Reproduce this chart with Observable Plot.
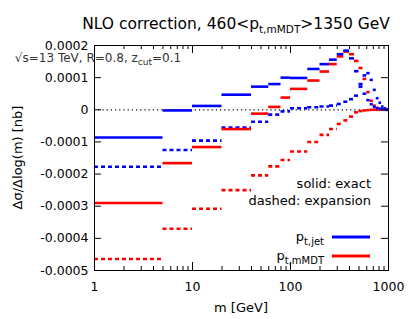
<!DOCTYPE html>
<html><head><meta charset="utf-8">
<script src="https://cdn.jsdelivr.net/npm/d3@7"></script>
<script src="https://cdn.jsdelivr.net/npm/@observablehq/plot@0.6"></script>
<style>body{margin:0;background:#fff}svg{font-family:"DejaVu Sans",sans-serif}</style>
</head><body><div id="chart"></div>
<script>
// ---- data (values in nb) ----
const binEdges = [1,5,10,20,40,60,80,100,150,200,250,300,350,400,450,500,550,600,650,700,750,800,850,900,950,1000];
const ptJetExact = [-0.86e-4,-0.02e-4,0.12e-4,0.47e-4,0.72e-4,0.80e-4,1.00e-4,0.99e-4,1.27e-4,1.42e-4,1.56e-4,1.73e-4,1.84e-4,1.60e-4,1.20e-4,0.80e-4,0.50e-4,0.30e-4,0.17e-4,0.09e-4,0.05e-4,0.03e-4,0.02e-4,0.01e-4,0];
const ptJetExpansion = [-1.77e-4,-1.25e-4,-0.96e-4,-0.55e-4,-0.37e-4,-0.15e-4,-0.05e-4,0.05e-4,0.08e-4,0.10e-4,0.13e-4,0.18e-4,0.25e-4,0.33e-4,0.44e-4,0.72e-4,1.07e-4,1.14e-4,0.93e-4,0.62e-4,0.36e-4,0.22e-4,0.10e-4,0.05e-4,0.02e-4];
const ptMmdtExact = [-2.90e-4,-1.66e-4,-1.16e-4,-0.60e-4,-0.12e-4,0.09e-4,0.38e-4,0.65e-4,0.91e-4,1.19e-4,1.42e-4,1.66e-4,1.81e-4,1.73e-4,1.52e-4,1.30e-4,0.96e-4,0.55e-4,0.28e-4,0.13e-4,0.06e-4,0.03e-4,0.01e-4,0.005e-4,0];
const ptMmdtExpansion = [-4.64e-4,-3.70e-4,-3.08e-4,-2.50e-4,-2.04e-4,-1.76e-4,-1.56e-4,-1.30e-4,-1.00e-4,-0.78e-4,-0.60e-4,-0.44e-4,-0.33e-4,-0.21e-4,-0.08e-4,-0.04e-4,-0.02e-4,-0.01e-4,0,0,0,0,0,0,0];
const xTickLabels = [1,10,100,1000];
const xMinorTicks = [2,3,4,5,6,7,8,9,20,30,40,50,60,70,80,90,200,300,400,500,600,700,800,900];
const yTickValues = [-0.0005,-0.0004,-0.0003,-0.0002,-0.0001,0,0.0001,0.0002];
const titleParts = ["NLO correction, 460<p", "t,mMDT", ">1350 GeV"];
const subtitleText = "√s=13 TeV, R=0.8, z";
const subtitleSub = "cut";
const subtitleEnd = "=0.1";
const xLabel = "m [GeV]";
const yLabel = "Δσ/Δlog(m) [nb]";
const styleNotes = ["solid: exact", "dashed: expansion"];
const legendEntries = [["p", "t,jet", "#0000ff"], ["p", "t,mMDT", "#ff0000"]];

// ---- build ----
const W = 411, H = 319, mL = 94, mR = 23, mT = 45, mB = 49;
const ih = H - mT - mB, iw = W - mL - mR;
const seriesList = [
  {vals: ptJetExact, color: "#0000ff", dash: null},
  {vals: ptJetExpansion, color: "#0000ff", dash: "4,3"},
  {vals: ptMmdtExact, color: "#ff0000", dash: null},
  {vals: ptMmdtExpansion, color: "#ff0000", dash: "4,3"}
];
const lineMarks = [];
// draw expansions first, then exact
for (const s of [seriesList[3], seriesList[1], seriesList[2], seriesList[0]]) {
  const rows = s.vals.map((v, i) => ({x1: binEdges[i], x2: binEdges[i + 1], y: v}));
  lineMarks.push(Plot.ruleY(rows, {x1: "x1", x2: "x2", y: "y", stroke: s.color, strokeWidth: 2.6,
    strokeDasharray: s.dash ?? undefined, strokeLinecap: "butt"}));
}

const chart = Plot.plot({
  width: W, height: H, marginLeft: mL, marginRight: mR, marginTop: mT, marginBottom: mB,
  style: {fontFamily: "DejaVu Sans, sans-serif", fontSize: "12px", background: "white", color: "black"},
  x: {type: "log", domain: [1, 1000]},
  y: {domain: [-0.0005, 0.0002]},
  marks: [
    Plot.ruleY([0], {stroke: "black", strokeDasharray: "1.2,3", strokeWidth: 1.3}),
    ...lineMarks,
    Plot.tickX(xTickLabels, {x: d => d, insetTop: ih - 8, stroke: "black"}),
    Plot.tickX(xTickLabels, {x: d => d, insetBottom: ih - 8, stroke: "black"}),
    Plot.tickX(xMinorTicks, {x: d => d, insetTop: ih - 4, stroke: "black"}),
    Plot.tickX(xMinorTicks, {x: d => d, insetBottom: ih - 4, stroke: "black"}),
    Plot.tickY(yTickValues, {y: d => d, insetRight: iw - 7, stroke: "black"}),
    Plot.tickY(yTickValues, {y: d => d, insetLeft: iw - 7, stroke: "black"}),
    Plot.axisX(xTickLabels, {tickSize: 0, tickPadding: 12, tickFormat: d => String(d), label: null, fontSize: 12.5}),
    Plot.axisY(yTickValues, {tickSize: 0, tickPadding: 6, tickFormat: d => d === 0 ? "0" : d.toFixed(4), label: null, fontSize: 12.5}),
    Plot.frame({stroke: "black"})
  ]
});

const svg = d3.select(chart);
// title
const t = svg.append("text").attr("x", 236).attr("y", 29).attr("text-anchor", "middle")
  .attr("font-size", 15.5).attr("fill", "black");
t.append("tspan").text(titleParts[0]);
t.append("tspan").attr("dy", 4).attr("font-size", 10.5).text(titleParts[1]);
t.append("tspan").attr("dy", -4).text(titleParts[2]);
// subtitle
const st = svg.append("text").attr("x", mL + 4).attr("y", 62).attr("font-size", 12).attr("fill", "#333");
st.append("tspan").text(subtitleText);
st.append("tspan").attr("dy", 3).attr("font-size", 9).text(subtitleSub);
st.append("tspan").attr("dy", -3).text(subtitleEnd);
// axis labels
svg.append("text").attr("x", mL + iw / 2).attr("y", 312).attr("text-anchor", "middle")
  .attr("font-size", 13).attr("fill", "black").text(xLabel);
svg.append("text").attr("transform", `translate(22,${mT + ih / 2}) rotate(-90)`).attr("text-anchor", "middle")
  .attr("font-size", 13).attr("fill", "black").text(yLabel);
// style notes
styleNotes.forEach((s, i) => svg.append("text").attr("x", 371).attr("y", 188 + i * 17)
  .attr("text-anchor", "end").attr("font-size", 13).attr("fill", "black").text(s));
// legend
legendEntries.forEach(([p, sub, c], i) => {
  const y = 237 + i * 19;
  const lt = svg.append("text").attr("x", 324).attr("y", y + 4).attr("text-anchor", "end")
    .attr("font-size", 13).attr("fill", "black");
  lt.append("tspan").text(p);
  lt.append("tspan").attr("dy", 4).attr("font-size", 10).text(sub);
  svg.append("line").attr("x1", 332).attr("x2", 370).attr("y1", y).attr("y2", y)
    .attr("stroke", c).attr("stroke-width", 2.8);
});

document.getElementById("chart").append(chart);
</script>
</body></html>
